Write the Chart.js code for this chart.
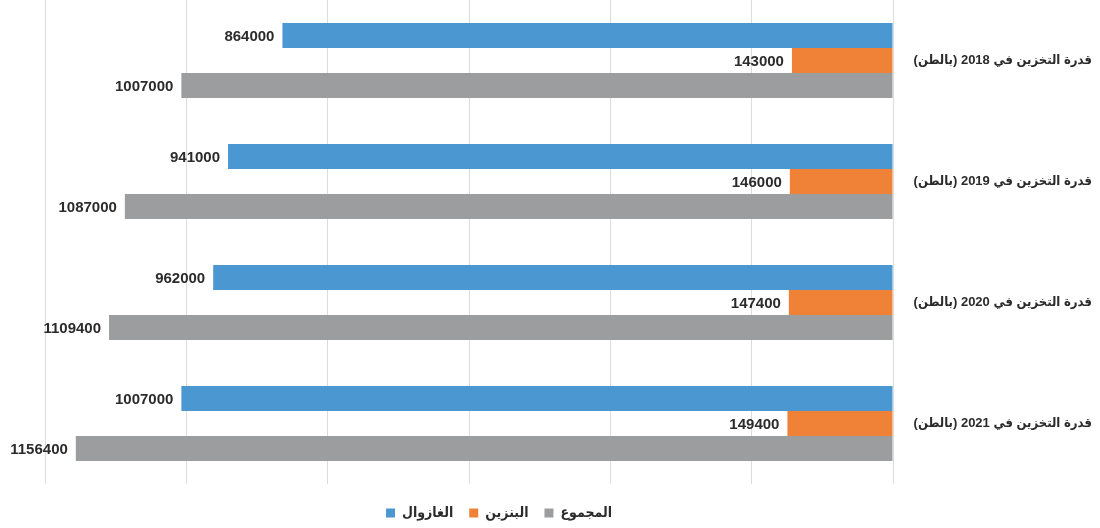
<!DOCTYPE html>
<html lang="ar">
<head>
<meta charset="utf-8">
<title>قدرة التخزين</title>
<script src="https://cdn.jsdelivr.net/npm/chart.js@4/dist/chart.umd.min.js"></script>
<style>
    html, body { margin: 0; padding: 0; background: #ffffff; }
    #wrap { width: 1100px; height: 528px; position: relative; }
</style>
</head>
<body>
<div id="wrap"><canvas id="storageChart"></canvas></div>
<script>
// ================================================================
// DATOS
// ================================================================
const categories = [
    'قدرة التخزين في 2018 (بالطن)',
    'قدرة التخزين في 2019 (بالطن)',
    'قدرة التخزين في 2020 (بالطن)',
    'قدرة التخزين في 2021 (بالطن)'
];
const gasoilValues = [864000, 941000, 962000, 1007000];
const essenceValues = [143000, 146000, 147400, 149400];
const totalValues = [1007000, 1087000, 1109400, 1156400];

const seriesNames = ['الغازوال', 'البنزين', 'المجموع'];
const axisMax = 1200000;
const axisStep = 200000;

// ================================================================
// ESTILO
// ================================================================
const COLORS = {
    blue: '#4b97d2',
    orange: '#f08238',
    grey: '#9b9d9e',
    grid: '#dcdcdc',
    text: '#2b2b2b'
};
const FONT_FAMILY = "'Liberation Sans', 'DejaVu Sans Condensed', 'DejaVu Sans', sans-serif";
// la leyenda va un poco a la derecha del centro del área y algo más abajo
const LEGEND_SHIFT_X = 30;
const LEGEND_SHIFT_Y = 6;

// etiquetas de valor a la izquierda de cada barra
const valueLabels = {
    id: 'valueLabels',
    afterDatasetsDraw(chart) {
        const ctx = chart.ctx;
        ctx.save();
        ctx.font = `bold 15px ${FONT_FAMILY}`;
        ctx.fillStyle = COLORS.text;
        ctx.textAlign = 'right';
        ctx.textBaseline = 'middle';
        chart.data.datasets.forEach((ds, i) => {
            const meta = chart.getDatasetMeta(i);
            meta.data.forEach((bar, j) => {
                ctx.fillText(String(ds.data[j]), bar.x - 8, bar.y + 1);
            });
        });
        ctx.restore();
    }
};

// desplaza la caja de la leyenda después del layout
const legendShift = {
    id: 'legendShift',
    afterLayout(chart) {
        const lg = chart.legend;
        if (!lg) return;
        lg.left += LEGEND_SHIFT_X;
        lg.right += LEGEND_SHIFT_X;
        lg.top += LEGEND_SHIFT_Y;
        lg.bottom += LEGEND_SHIFT_Y;
    }
};

const ctx = document.getElementById('storageChart').getContext('2d');
new Chart(ctx, {
    type: 'bar',
    data: {
        labels: categories,
        datasets: [
            { label: seriesNames[0], data: gasoilValues, backgroundColor: COLORS.blue },
            { label: seriesNames[1], data: essenceValues, backgroundColor: COLORS.orange },
            { label: seriesNames[2], data: totalValues, backgroundColor: COLORS.grey }
        ]
    },
    options: {
        indexAxis: 'y',
        responsive: true,
        maintainAspectRatio: false,
        animation: false,
        layout: { padding: { left: 45, top: 0, right: 8, bottom: 4 } },
        datasets: {
            bar: { categoryPercentage: 0.62, barPercentage: 1.0, borderWidth: 0 }
        },
        plugins: {
            tooltip: { enabled: false },
            legend: {
                position: 'bottom',
                fullSize: false,
                labels: {
                    boxWidth: 9,
                    boxHeight: 9,
                    padding: 16,
                    color: COLORS.text,
                    font: { family: FONT_FAMILY, size: 14, weight: 'bold' }
                }
            }
        },
        scales: {
            x: {
                reverse: true,
                min: 0,
                max: axisMax,
                ticks: { display: false, stepSize: axisStep },
                border: { display: false },
                grid: { color: COLORS.grid, lineWidth: 1, drawTicks: false }
            },
            y: {
                position: 'right',
                border: { display: false },
                grid: { display: false, drawTicks: false },
                ticks: {
                    padding: 20,
                    crossAlign: 'far',
                    color: COLORS.text,
                    font: { family: FONT_FAMILY, size: 13, weight: 'bold' }
                },
                afterFit(scale) {
                    scale.width = 199;
                    scale.paddingTop = 0;
                    scale.paddingBottom = 0;
                }
            }
        }
    },
    plugins: [valueLabels, legendShift]
});
</script>
</body>
</html>
